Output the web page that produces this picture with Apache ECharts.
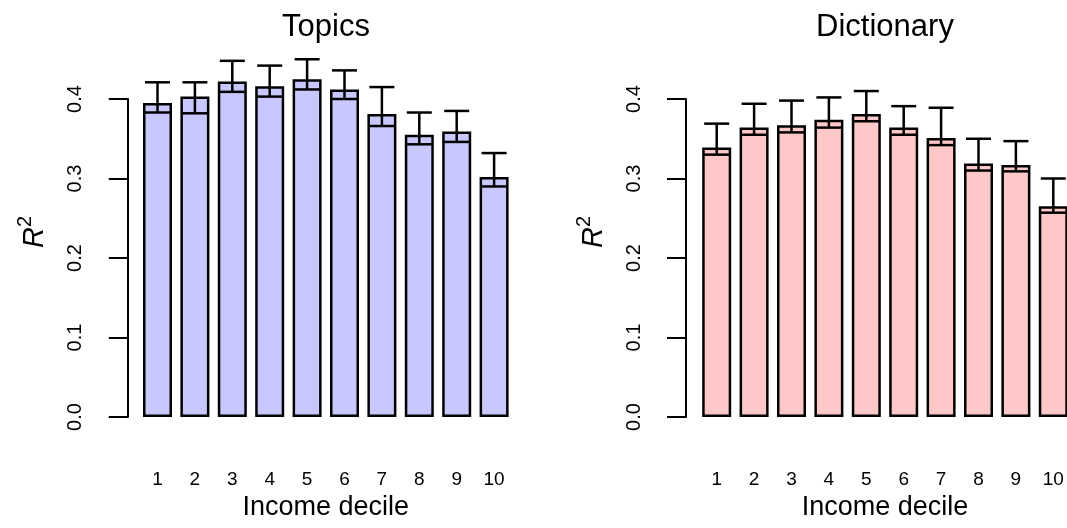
<!DOCTYPE html>
<html>
<head>
<meta charset="utf-8">
<script src="https://cdn.jsdelivr.net/npm/echarts@6/dist/echarts.min.js"></script>
<style>
  html, body { margin: 0; padding: 0; background: #fff; }
  #main { width: 1067px; height: 528px; }
</style>
</head>
<body>
<div id="main"></div>
<script>
// income deciles
const deciles = ['1', '2', '3', '4', '5', '6', '7', '8', '9', '10'];
const yTicks = [0, 0.1, 0.2, 0.3, 0.4];

// topics model R^2 with interval
const topicsR2 = [0.395, 0.403, 0.422, 0.416, 0.425, 0.412, 0.381, 0.355, 0.359, 0.302];
const topicsLo = [0.383, 0.382, 0.409, 0.403, 0.412, 0.400, 0.366, 0.343, 0.346, 0.290];
const topicsHi = [0.421, 0.421, 0.448, 0.442, 0.450, 0.436, 0.415, 0.383, 0.385, 0.332];

// dictionary model R^2 with interval
const dictR2 = [0.339, 0.364, 0.367, 0.374, 0.381, 0.364, 0.351, 0.319, 0.317, 0.265];
const dictLo = [0.330, 0.355, 0.358, 0.364, 0.372, 0.355, 0.342, 0.310, 0.309, 0.257];
const dictHi = [0.369, 0.394, 0.398, 0.402, 0.410, 0.391, 0.389, 0.350, 0.347, 0.300];

const FONT = '"Liberation Sans", Arial, Helvetica, sans-serif';

function errData(lo, hi) {
  return lo.map((v, i) => [i, v, hi[i]]);
}

function errRender(params, api) {
  const x = api.value(0);
  const pLo = api.coord([x, api.value(1)]);
  const pHi = api.coord([x, api.value(2)]);
  const hw = 12.5;
  const st = { stroke: '#000', lineWidth: 2.5 };
  return {
    type: 'group',
    children: [
      { type: 'line', shape: { x1: pLo[0], y1: pLo[1], x2: pHi[0], y2: pHi[1] }, style: st },
      { type: 'line', shape: { x1: pHi[0] - hw, y1: pHi[1], x2: pHi[0] + hw, y2: pHi[1] }, style: st },
      { type: 'line', shape: { x1: pLo[0] - hw, y1: pLo[1], x2: pLo[0] + hw, y2: pLo[1] }, style: st }
    ]
  };
}

function xAx(idx) {
  return {
    type: 'category',
    gridIndex: idx,
    data: deciles,
    boundaryGap: true,
    axisLine: { show: false },
    axisTick: { show: false },
    axisLabel: { color: '#000', fontSize: 19, fontFamily: FONT, margin: 53 },
    name: 'Income decile',
    nameLocation: 'middle',
    nameGap: 70,
    nameTextStyle: { color: '#000', fontSize: 27, fontFamily: FONT }
  };
}

function yAx(idx, off) {
  return {
    type: 'value',
    gridIndex: idx,
    min: 0,
    max: 0.4,
    interval: 0.1,
    offset: off,
    splitLine: { show: false },
    axisLine: { show: true, lineStyle: { color: '#000', width: 2 } },
    axisTick: { show: true, length: 19, lineStyle: { color: '#000', width: 2 } },
    axisLabel: {
      color: '#000', fontSize: 20, fontFamily: FONT, rotate: 90, margin: 42,
      formatter: v => yTicks.indexOf(Math.round(v * 10) / 10) >= 0 ? v.toFixed(1) : ''
    }
  };
}

function r2Label(x) {
  return {
    type: 'text',
    x: x,
    y: 232,
    rotation: Math.PI / 2,
    style: {
      text: '{r|R}{s|2}',
      align: 'center',
      verticalAlign: 'middle',
      fill: '#000',
      rich: {
        r: { fontSize: 29, fontStyle: 'italic', fontFamily: FONT, fill: '#000', lineHeight: 34, verticalAlign: 'bottom' },
        s: { fontSize: 20, fontFamily: FONT, fill: '#000', lineHeight: 34, verticalAlign: 'top' }
      }
    }
  };
}

const chart = echarts.init(document.getElementById('main'), null, { renderer: 'canvas' });

const option = {
  backgroundColor: '#fff',
  animation: false,
  title: [
    { text: 'Topics', left: 326, top: 12, textAlign: 'center', padding: 0,
      textStyle: { color: '#000', fontSize: 31, fontWeight: 'normal', fontFamily: FONT } },
    { text: 'Dictionary', left: 885, top: 12, textAlign: 'center', padding: 0,
      textStyle: { color: '#000', fontSize: 31, fontWeight: 'normal', fontFamily: FONT } }
  ],
  grid: [
    { left: 138.8, top: 99, width: 374, height: 318, outerBoundsMode: 'none', containLabel: false },
    { left: 698, top: 99, width: 374, height: 318, outerBoundsMode: 'none', containLabel: false }
  ],
  xAxis: [xAx(0), xAx(1)],
  yAxis: [yAx(0, 11), yAx(1, 12)],
  graphic: [r2Label(32), r2Label(591)],
  series: [
    {
      name: 'Topics', type: 'bar', xAxisIndex: 0, yAxisIndex: 0,
      data: topicsR2, barWidth: 29, clip: false,
      itemStyle: { color: '#C8C8FF', borderColor: '#000', borderWidth: 2.5 }
    },
    {
      name: 'Topics CI', type: 'custom', xAxisIndex: 0, yAxisIndex: 0,
      data: errData(topicsLo, topicsHi), renderItem: errRender, clip: false, z: 5,
      encode: { x: 0, y: [1, 2] }
    },
    {
      name: 'Dictionary', type: 'bar', xAxisIndex: 1, yAxisIndex: 1,
      data: dictR2, barWidth: 29, clip: false,
      itemStyle: { color: '#FFC8C8', borderColor: '#000', borderWidth: 2.5 }
    },
    {
      name: 'Dictionary CI', type: 'custom', xAxisIndex: 1, yAxisIndex: 1,
      data: errData(dictLo, dictHi), renderItem: errRender, clip: false, z: 5,
      encode: { x: 0, y: [1, 2] }
    }
  ]
};

chart.setOption(option);
window.addEventListener('resize', function () {
  chart.resize();
});
</script>
</body>
</html>
